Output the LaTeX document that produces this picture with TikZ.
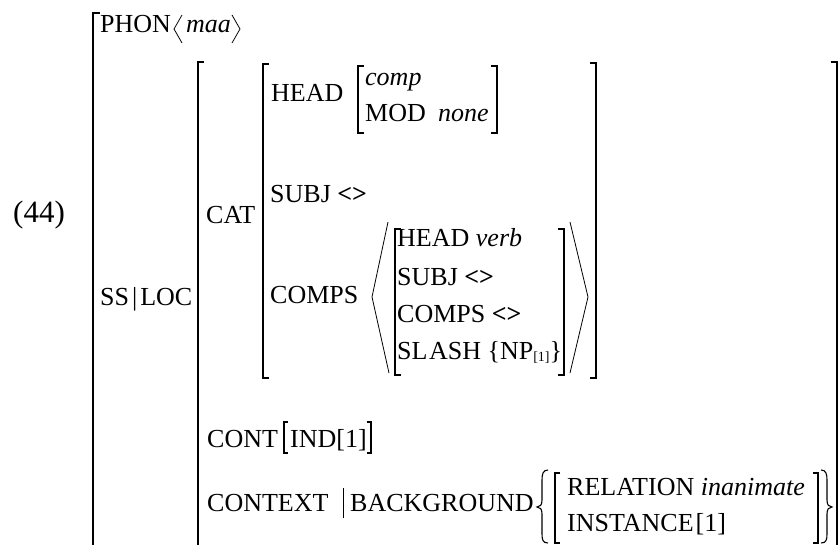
\documentclass[tikz,border=0pt]{standalone}
\usepackage{fontspec}
\setmainfont{Liberation Serif}
\begin{document}
\begin{tikzpicture}[x=1pt,y=-1pt,
  txt/.style={inner sep=0pt, anchor=base west, font=\fontsize{26}{30}\selectfont},
  big/.style={inner sep=0pt, anchor=base west, font=\fontsize{31}{36}\selectfont},
  brk/.style={line width=1.6pt, line cap=butt},
  thinbrk/.style={line width=1.1pt},
  ang/.style={line width=0.8pt},
  ]
\useasboundingbox (0,0) rectangle (840,545);
% labels
\node[big] (n44) at (13,223) {(44)};
\node[txt] (phon) at (100,33) {PHON};
\node[txt] (maa) at (186,33) {\itshape maa};
\node[txt] (ssloc) at (100,305) {SS\kern3pt|\kern3pt LOC};
\node[txt] (cat) at (206,224) {CAT};
\node[txt] (head) at (271,102) {HEAD};
\node[txt] (comp) at (365,86) {\itshape comp};
\node[txt] (mod) at (365,122) {MOD};
\node[txt] (none) at (438,122) {\itshape none};
\node[txt] (subj) at (270,203) {SUBJ \textbf{<>}};
\node[txt] (comps) at (270,303) {COMPS};
\node[txt] (ihead) at (397,247) {HEAD \textit{verb}};
\node[txt] (isubj) at (397,285) {SUBJ \textbf{<>}};
\node[txt] (icomps) at (397,322) {COMPS \textbf{<>}};
\node[txt] (islash) at (397,359) {SL\kern1.5pt ASH \{NP\raisebox{-2pt}{\fontsize{14}{14}\selectfont[1]}\}};
\node[txt] (cont) at (207,447) {CONT};
\node[txt] (ind) at (290,447) {IND[1]};
\node[txt] (context) at (207,511) {CONTEXT};
\node[txt] (bg) at (350,511) {BACKGROUND};
\node[txt] (rel) at (567,495) {RELATION \textit{inanimate}};
\node[txt] (inst) at (567,531) {INSTANCE\kern2pt[1]};
% angle brackets of PHON
\draw[ang] (182,15) -- (174,29) -- (182,43);
\draw[ang] (232,15) -- (240,29) -- (232,43);
% outer brackets
\draw[brk] (100,13) -- (93,13) -- (93,546);
\draw[brk] (204,62) -- (198,62) -- (198,546);
\draw[brk] (831,62) -- (837,62) -- (837,546);
% CAT brackets
\draw[brk] (269,64) -- (263,64) -- (263,378) -- (269,378);
\draw[brk] (590,63) -- (596,63) -- (596,378) -- (590,378);
% HEAD value brackets
\draw[thinbrk] (364,66) -- (358,66) -- (358,133) -- (364,133);
\draw[thinbrk] (491,66) -- (497,66) -- (497,133) -- (491,133);
% COMPS list
\draw[ang] (388,222) -- (372,297) -- (389,373);
\draw[brk] (401,229) -- (395,229) -- (395,375) -- (401,375);
\draw[brk] (558,229) -- (564,229) -- (564,375) -- (558,375);
\draw[ang] (570,222) -- (588,297) -- (570,373);
% CONT brackets
\draw[thinbrk] (288,422) -- (284,422) -- (284,453) -- (288,453);
\draw[thinbrk] (367,422) -- (371,422) -- (371,453) -- (367,453);
% CONTEXT bar
\draw[ang] (343,488) -- (343,518);
% BACKGROUND braces and brackets
\draw[thinbrk] (548,470) .. controls (543,470) and (542,474) .. (542,480) -- (542,500) .. controls (542,505) and (540,507) .. (537,507) .. controls (540,507) and (542,509) .. (542,514) -- (542,534) .. controls (542,540) and (543,543) .. (548,543);
\draw[thinbrk] (560,473) -- (555,473) -- (555,543) -- (560,543);
\draw[thinbrk] (813,473) -- (818,473) -- (818,543) -- (813,543);
\draw[thinbrk] (821,470) .. controls (826,470) and (827,474) .. (827,480) -- (827,500) .. controls (827,505) and (829,507) .. (832,507) .. controls (829,507) and (827,509) .. (827,514) -- (827,534) .. controls (827,540) and (826,543) .. (821,543);
\end{tikzpicture}
\end{document}
